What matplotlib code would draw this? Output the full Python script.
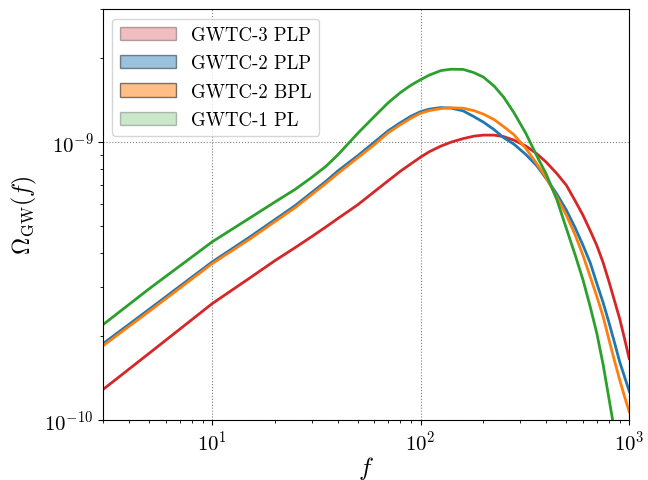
import numpy as np
import matplotlib
matplotlib.use("Agg")
import matplotlib.pyplot as plt
from matplotlib.patches import Patch

plt.rcParams['font.family'] = 'serif'
plt.rcParams['font.serif'] = ['cmr10', 'DejaVu Serif']
plt.rcParams['mathtext.fontset'] = 'cm'
plt.rcParams['axes.formatter.use_mathtext'] = True
plt.rcParams['axes.unicode_minus'] = False

# frequency grid (Hz)
f = [3, 5, 10, 15, 20, 25, 30, 35, 40, 50, 60, 70, 80, 90, 100, 110, 125, 140,
     160, 180, 200, 225, 250, 280, 320, 360, 400, 450, 500, 550, 600, 650, 700,
     750, 800, 850, 900, 950, 1000]

# Omega_GW(f) in units of 1e-9
om_gwtc3_plp = [0.1288, 0.1739, 0.2620, 0.3224, 0.3741, 0.4167, 0.4563, 0.4938,
                0.5298, 0.5948, 0.6628, 0.7259, 0.785, 0.835, 0.882, 0.922,
                0.9658, 0.9983, 1.028, 1.049, 1.058, 1.058, 1.045, 1.015, 0.9658,
                0.9077, 0.8459, 0.7691, 0.6980, 0.6149, 0.5454, 0.4798, 0.4236,
                0.3680, 0.3143, 0.2686, 0.2314, 0.1961, 0.1662]
om_gwtc2_plp = [0.1881, 0.2503, 0.3701, 0.4526, 0.5254, 0.5900, 0.6573, 0.7199,
                0.7852, 0.8929, 0.9983, 1.098, 1.173, 1.238, 1.285, 1.312, 1.329,
                1.323, 1.293, 1.233, 1.178, 1.107, 1.036, 0.9819, 0.9000, 0.8219,
                0.7379, 0.6491, 0.568, 0.492, 0.4253, 0.3680, 0.3092, 0.2642,
                0.2239, 0.190, 0.162, 0.143, 0.127]
om_gwtc2_bpl = [0.1850, 0.2461, 0.3650, 0.4451, 0.5168, 0.5802, 0.6465, 0.7079,
                0.7691, 0.8779, 0.9779, 1.080, 1.154, 1.218, 1.269, 1.296, 1.318,
                1.327, 1.322, 1.296, 1.259, 1.203, 1.135, 1.062, 0.9460, 0.8353,
                0.7439, 0.6329, 0.5445, 0.4640, 0.3916, 0.3276, 0.2777, 0.2352,
                0.1944, 0.1634, 0.1396, 0.1213, 0.1071]
om_gwtc1_pl = [0.2203, 0.2967, 0.437, 0.530, 0.608, 0.675, 0.745, 0.815,
               0.897, 1.075, 1.235, 1.385, 1.505, 1.601, 1.675, 1.739, 1.805,
               1.826, 1.823, 1.775, 1.710, 1.588, 1.449, 1.275, 1.071, 0.8929,
               0.766, 0.620, 0.4877, 0.3932, 0.3197, 0.2557, 0.2044, 0.1581,
               0.1193, 0.0915, 0.0697, 0.0521, 0.0374]

labels = ['GWTC-3 PLP', 'GWTC-2 PLP', 'GWTC-2 BPL', 'GWTC-1 PL']
colors = ['tab:red', 'tab:blue', 'tab:orange', 'tab:green']
alphas = [0.3, 0.45, 0.5, 0.25]
series = [om_gwtc3_plp, om_gwtc2_plp, om_gwtc2_bpl, om_gwtc1_pl]

fig = plt.figure(figsize=(6.48, 4.81), dpi=100)
ax = fig.add_axes([0.159, 0.1247, 0.812, 0.854])

for om, c in zip(series, colors):
    ax.loglog(f, np.array(om) * 1e-9, color=c, lw=2)

ax.set_xlim(3, 1000)
ax.set_ylim(1e-10, 3e-9)
ax.grid(True, which='major', ls=':', color='gray', lw=0.8)
ax.tick_params(which='major', labelsize=15)
ax.set_xlabel(r'$f$', fontsize=18, labelpad=0)
ax.set_ylabel(r'$\Omega_{\rm GW}(f)$', fontsize=17)

handles = [Patch(facecolor=c, edgecolor='k', alpha=a, label=l)
           for c, a, l in zip(colors, alphas, labels)]
ax.legend(handles=handles, loc='upper left', fontsize=13.5, handlelength=3.0,
          labelspacing=0.55)

fig.savefig('out.png', dpi=100)
